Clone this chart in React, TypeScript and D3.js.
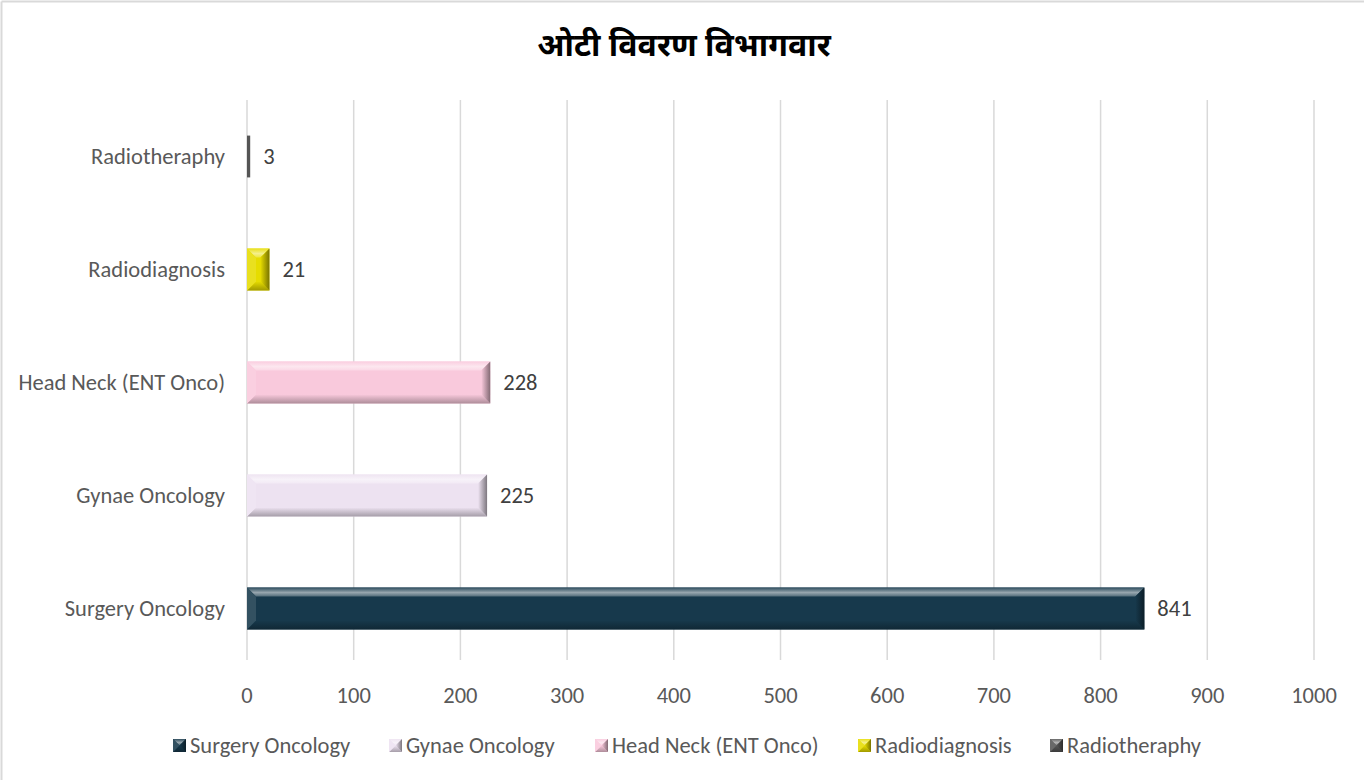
import React from "react";
import * as d3 from "d3";

const TITLE = "ओटी विवरण विभागवार";
const categories = ["Surgery Oncology", "Gynae Oncology", "Head Neck (ENT Onco)", "Radiodiagnosis", "Radiotheraphy"];
const values = [841, 225, 228, 21, 3];
const colors = ["#17394c", "#ede2f1", "#f9c9dc", "#e6dc00", "#555555"];
const xTicks = [0, 100, 200, 300, 400, 500, 600, 700, 800, 900, 1000];
const legendX = [173, 389, 595, 858, 1050];

const W = 1364, H = 780;
const FONT = "Carlito, Calibri, 'Open Sans', 'Noto Sans', sans-serif";
const FS = 22.5;

function BevelBar({ x0, x1, y0, y1, color, id }: { x0: number; x1: number; y0: number; y1: number; color: string; id: string }) {
  const w = x1 - x0, h = y1 - y0;
  const b = Math.max(0.5, Math.min(9, w / 2, h / 2));
  const c = d3.color(color)!;
  const light = d3.interpolateRgb(color, "#ffffff")(0.55);
  const dark = c.darker(1.0).formatHex();
  const side = d3.interpolateRgb(color, "#ffffff")(0.12);
  const rside = c.darker(1.8).formatHex();
  const pts = (p: number[][]) => p.map((q) => q.join(",")).join(" ");
  return (
    <g>
      <defs>
        <linearGradient id={id + "t"} x1="0" y1="0" x2="0" y2="1">
          <stop offset="0" stopColor={d3.interpolateRgb(color, "#ffffff")(0.1)} />
          <stop offset="0.55" stopColor={light} />
          <stop offset="1" stopColor={d3.interpolateRgb(color, "#ffffff")(0.25)} />
        </linearGradient>
        <linearGradient id={id + "b"} x1="0" y1="0" x2="0" y2="1">
          <stop offset="0" stopColor={color} />
          <stop offset="1" stopColor={dark} />
        </linearGradient>
        <linearGradient id={id + "r"} x1="0" y1="0" x2="1" y2="0">
          <stop offset="0" stopColor={color} />
          <stop offset="1" stopColor={rside} />
        </linearGradient>
      </defs>
      <rect x={x0} y={y0} width={w} height={h} fill={color} />
      <polygon points={pts([[x0, y0], [x1, y0], [x1 - b, y0 + b], [x0 + b, y0 + b]])} fill={`url(#${id}t)`} />
      <polygon points={pts([[x0, y1], [x1, y1], [x1 - b, y1 - b], [x0 + b, y1 - b]])} fill={`url(#${id}b)`} />
      <polygon points={pts([[x0, y0], [x0 + b, y0 + b], [x0 + b, y1 - b], [x0, y1]])} fill={side} />
      <polygon points={pts([[x1, y0], [x1 - b, y0 + b], [x1 - b, y1 - b], [x1, y1]])} fill={`url(#${id}r)`} />
    </g>
  );
}

export default function App() {
  const x = d3.scaleLinear().domain([0, 1000]).range([247, 1314]);
  const order = [...categories].reverse();
  const y = d3.scaleBand().domain(order).range([100, 665]).paddingInner(0.63).paddingOuter(0.315);
  const bh = y.bandwidth();
  return (
    <svg width={W} height={H} style={{ position: "fixed", left: 0, top: 0, background: "#fff" }} fontFamily={FONT}>
      <rect x={0} y={0} width={W} height={H} fill="#fff" />
      <line x1={1.5} y1={1.5} x2={W} y2={1.5} stroke="#d9d9d9" strokeWidth={2} />
      <line x1={1.5} y1={1.5} x2={1.5} y2={H} stroke="#d9d9d9" strokeWidth={2} />
      <text x={684} y={56} textAnchor="middle" fontSize={32} fontWeight="bold" fill="#000"
        fontFamily="'Noto Sans Devanagari', 'Lohit Devanagari', 'Noto Sans', sans-serif">{TITLE}</text>
      {xTicks.map((t) => (
        <g key={t}>
          <line x1={x(t)} x2={x(t)} y1={100} y2={660} stroke="#d9d9d9" strokeWidth={1.5} />
          <text x={x(t)} y={695} dy="0.35em" textAnchor="middle" fontSize={FS} fill="#595959">{t}</text>
        </g>
      ))}
      {categories.map((c, i) => {
        const y0 = y(c)!;
        const v = values[i];
        return (
          <g key={c}>
            <text x={225} y={y0 + bh / 2} dy="0.35em" textAnchor="end" fontSize={FS} fill="#595959">{c}</text>
            {v < 10 ? (
              <rect x={x(0)} y={y0} width={x(v) - x(0)} height={bh} fill={colors[i]} />
            ) : (
              <BevelBar id={"bar" + i} x0={x(0)} x1={x(v)} y0={y0} y1={y0 + bh} color={colors[i]} />
            )}
            <text x={x(v) + 13} y={y0 + bh / 2} dy="0.35em" fontSize={FS} fill="#404040">{v}</text>
          </g>
        );
      })}
      {categories.map((c, i) => (
        <g key={"lg" + c}>
          <BevelBar id={"lg" + i} x0={legendX[i]} x1={legendX[i] + 13} y0={739} y1={752} color={colors[i]} />
          <text x={legendX[i] + 17} y={745.5} dy="0.35em" fontSize={FS} fill="#595959">{c}</text>
        </g>
      ))}
    </svg>
  );
}
